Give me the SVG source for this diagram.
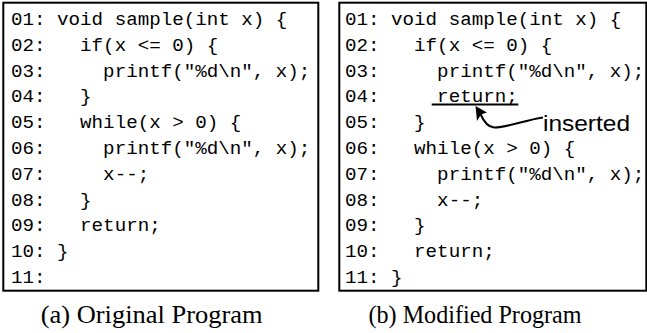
<svg xmlns="http://www.w3.org/2000/svg" width="647" height="333" viewBox="0 0 647 333">
  <style>
    .frame { fill: #ffffff; stroke: #000000; stroke-width: 2; }
    .code { font-family: "Liberation Mono", "DejaVu Sans Mono", monospace; font-size: 19.2px; fill: #000000; white-space: pre; }
    .caption { font-family: "Liberation Serif", "Times New Roman", serif; font-size: 25px; fill: #000000; text-anchor: middle; }
    .note { font-family: "Liberation Sans", Arial, sans-serif; font-size: 22px; fill: #000000; }
    .mark { fill: none; stroke: #000000; stroke-width: 2; }
  </style>
  <rect width="647" height="333" fill="#ffffff"/>

  <!-- left listing: original program -->
  <g id="original-program">
    <rect class="frame" x="3.3" y="2.7" width="315" height="288"/>
    <text class="code" xml:space="preserve">
      <tspan x="11" y="25">01: void sample(int x) {</tspan>
      <tspan x="11" y="50.8">02:   if(x &lt;= 0) {</tspan>
      <tspan x="11" y="76.6">03:     printf("%d\n", x);</tspan>
      <tspan x="11" y="102.4">04:   }</tspan>
      <tspan x="11" y="128.2">05:   while(x &gt; 0) {</tspan>
      <tspan x="11" y="154">06:     printf("%d\n", x);</tspan>
      <tspan x="11" y="179.8">07:     x--;</tspan>
      <tspan x="11" y="205.6">08:   }</tspan>
      <tspan x="11" y="231.4">09:   return;</tspan>
      <tspan x="11" y="257.2">10: }</tspan>
      <tspan x="11" y="283">11:</tspan>
    </text>
  </g>

  <!-- right listing: modified program -->
  <g id="modified-program">
    <rect class="frame" x="339.3" y="2.7" width="307" height="288"/>
    <text class="code" xml:space="preserve">
      <tspan x="345" y="25">01: void sample(int x) {</tspan>
      <tspan x="345" y="50.8">02:   if(x &lt;= 0) {</tspan>
      <tspan x="345" y="76.6">03:     printf("%d\n", x);</tspan>
      <tspan x="345" y="102.4">04:     return;</tspan>
      <tspan x="345" y="128.2">05:   }</tspan>
      <tspan x="345" y="154">06:   while(x &gt; 0) {</tspan>
      <tspan x="345" y="179.8">07:     printf("%d\n", x);</tspan>
      <tspan x="345" y="205.6">08:     x--;</tspan>
      <tspan x="345" y="231.4">09:   }</tspan>
      <tspan x="345" y="257.2">10:   return;</tspan>
      <tspan x="345" y="283">11: }</tspan>
    </text>
    <!-- underline of the inserted statement -->
    <line class="mark" x1="431.7" y1="104.5" x2="518.3" y2="104.5"/>
  </g>

  <!-- annotation -->
  <g id="inserted-label">
    <text class="note" x="543" y="130.5" textLength="87" lengthAdjust="spacingAndGlyphs">inserted</text>
  </g>

  <g id="connectors">
    <path class="mark" stroke-width="2.4" d="M543,117.5 C525,120 506,128 494,127.5 C487.5,127 483.5,121 480.5,114"/>
    <path d="M475.5,106 L487,112.5 L481,114.5 L477,121 Z" fill="#000000"/>
  </g>

  <!-- captions -->
  <g id="caption-a">
    <text class="caption" x="151.7" y="323.3" textLength="222" lengthAdjust="spacingAndGlyphs">(a) Original Program</text>
  </g>
  <g id="caption-b">
    <text class="caption" x="475" y="323.3" textLength="213" lengthAdjust="spacingAndGlyphs">(b) Modified Program</text>
  </g>
</svg>
